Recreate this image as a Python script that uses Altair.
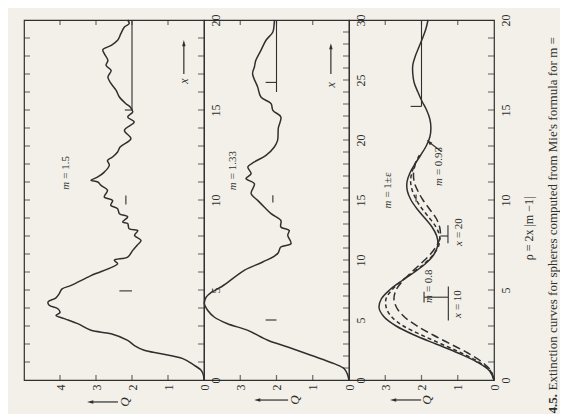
import altair as alt
import pandas as pd

FONT = "Liberation Serif"
INK = "#2f2f2f"
BG = "#f2f0e8"
H = 360

# ---------------- curves: (size parameter, Q) ----------------
m15 = [(0, 0), (0.3, 0.02), (0.54, 0.08), (0.85, 0.3), (1.19, 0.59), (1.46, 1.19), (1.65, 1.66),
       (1.9, 1.92), (2.2, 2.12), (2.57, 2.58), (2.76, 3.14), (3.13, 3.51), (3.41, 3.88), (3.59, 4.11),
       (3.75, 4.0), (3.96, 4.06), (4.15, 4.3), (4.35, 4.33), (4.55, 4.12), (4.8, 4.02), (5.05, 3.95),
       (5.26, 3.69), (5.8, 3.14), (6.46, 2.4), (6.65, 2.49), (6.83, 2.12), (7.2, 1.98), (7.5, 1.85),
       (7.76, 1.75), (8.04, 1.93), (8.3, 1.84), (8.4, 2.08), (8.69, 2.12), (8.78, 2.26), (9.06, 2.12),
       (9.24, 2.35), (9.52, 2.4), (9.7, 2.59), (9.98, 2.54), (10.17, 2.77), (10.54, 2.68), (10.81, 2.86),
       (11.0, 2.95), (11.09, 3.14), (11.28, 2.95), (11.55, 2.77), (11.93, 2.63), (12.2, 2.68),
       (12.39, 2.54), (12.67, 2.4), (12.94, 2.33), (13.41, 2.03), (13.87, 2.21), (14.33, 1.94),
       (14.61, 2.12), (14.9, 1.98), (15.17, 2.05), (15.35, 2.17), (15.72, 2.35), (16.09, 2.44),
       (16.46, 2.58), (16.83, 2.67), (17.2, 2.58), (17.48, 2.72), (17.76, 2.67), (18.13, 2.77),
       (18.35, 2.81), (18.59, 2.58), (18.87, 2.4), (19.24, 2.31), (19.61, 2.21), (19.8, 2.08), (20.0, 2.12)]

m133 = [(0, 0), (0.45, 0.04), (0.94, 0.13), (1.36, 0.41), (2.06, 1.05), (2.75, 1.69), (3.31, 2.24),
        (4.14, 2.79), (4.69, 3.35), (5.25, 3.72), (5.81, 3.9), (6.36, 3.99), (6.9, 3.94), (7.3, 3.8),
        (7.75, 3.53), (8.03, 3.39), (9.14, 2.89), (9.83, 2.38), (10.53, 1.97), (11.08, 1.88),
        (11.36, 1.6), (12.06, 1.69), (12.47, 1.65), (12.75, 1.88), (13.3, 1.88), (13.86, 2.15),
        (14.42, 2.34), (14.97, 2.52), (15.53, 2.7), (16.36, 2.61), (16.78, 2.84), (17.19, 2.7),
        (17.75, 2.79), (18.17, 2.61), (18.72, 2.29), (19.42, 2.06), (19.97, 1.97), (21.0, 1.95),
        (21.92, 1.88), (22.47, 2.1), (23.03, 2.15), (23.58, 2.43), (24.42, 2.52), (25.53, 2.66),
        (26.08, 2.61), (26.64, 2.57), (27.47, 2.43), (28.31, 2.29), (29.0, 2.1), (29.83, 2.06), (30.0, 2.05)]

eps_solid = [(0, 0), (0.5, 0.12), (1, 0.47), (1.5, 0.99), (2, 1.6), (2.5, 2.2), (3, 2.7), (3.5, 3.03),
             (4, 3.17), (4.5, 3.11), (5, 2.88), (5.5, 2.55), (6, 2.19), (6.5, 1.87), (7, 1.65),
             (7.5, 1.55), (8, 1.58), (8.5, 1.71), (9, 1.91), (9.5, 2.12), (10, 2.29), (10.5, 2.39),
             (11, 2.4), (11.5, 2.32), (12, 2.18), (12.5, 2.02), (13, 1.87), (13.5, 1.77), (14, 1.74),
             (14.5, 1.77), (15, 1.86), (15.5, 1.99), (16, 2.1), (16.5, 2.2), (17, 2.24), (17.5, 2.24),
             (18, 2.17), (18.5, 2.07), (19, 1.97), (19.5, 1.88), (20, 1.82)]

eps_093 = [(0, 0), (0.5, 0.1), (1, 0.42), (1.5, 0.9), (2, 1.45), (2.5, 2.0), (3, 2.5), (3.5, 2.82),
           (4, 2.97), (4.5, 2.98), (5, 2.82), (5.5, 2.55), (6, 2.22), (6.5, 1.9), (7, 1.66), (7.5, 1.52),
           (8, 1.5), (8.5, 1.6), (9, 1.78), (9.5, 1.98), (10, 2.14), (10.5, 2.25), (11, 2.3),
           (11.5, 2.27), (12, 2.18), (12.5, 2.06)]

eps_080 = [(0, 0), (0.5, 0.08), (1, 0.33), (1.5, 0.72), (2, 1.2), (2.5, 1.68), (3, 2.12), (3.5, 2.47),
           (4, 2.68), (4.5, 2.76), (5, 2.7), (5.5, 2.52), (6, 2.27), (6.5, 2.0), (7, 1.75), (7.5, 1.57),
           (8, 1.48), (8.5, 1.5), (9, 1.6), (9.5, 1.78), (10, 1.96), (10.5, 2.1), (11, 2.2),
           (11.5, 2.22), (12, 2.17)]

# ---------------- axis labels ----------------
q_labels_5 = [0, 1, 2, 3, 4]
q_labels_4 = [0, 1, 2, 3]
s_labels_20 = [0, 5, 10, 15, 20]
s_labels_30 = [0, 5, 10, 15, 20, 25, 30]

# ---------------- reference segments (q1, q2, s1, s2) ----------------
segs15 = [(2, 2, 15, 20), (2, 2.2, 15, 15), (2.17, 2.17, 9.75, 10.25), (2, 2.35, 4.95, 4.95)]
segs133 = [(2, 2, 24, 30), (2, 2.3, 24.8, 24.8), (2.1, 2.1, 14.8, 15.4), (2, 2.3, 5, 5)]
segs_eps = [(2, 2, 15.2, 20), (2, 2.3, 15.2, 15.2), (2.15, 2.15, 9.9, 10.3),
            (1.27, 1.27, 7.6, 8.6), (1.27, 1.48, 8.0, 8.0),
            (1.26, 1.26, 3.3, 5.2), (1.27, 1.93, 4.6, 4.6), (1.93, 1.93, 4.3, 4.9)]

# ---------------- labels: (q, s, italic part, roman part) ----------------
lab15 = [(3.83, 11.1, "m", "= 1.5")]
lab133 = [(3.2, 16.6, "m", "= 1.33")]
lab_eps = [(2.92, 10.05, "m", "= 1±ε"), (1.52, 11.3, "m", "= 0.93"), (1.79, 4.8, "m", "= 0.8"),
           (0.97, 7.8, "x", "= 20"), (0.99, 3.8, "x", "= 10")]

# arrows: (q1, s1, q2, s2) tail -> head
arrows15 = [(0.56, 17.0, 0.56, 18.67)]
arrows133 = [(0.5, 25.5, 0.5, 27.75)]
arrows_eps = [(1.45, 12.7, 1.78, 13.2)]
xlab15 = [(0.56, 16.6, "x")]
xlab133 = [(0.5, 24.6, "x")]
# "<- Q" under each panel: (q tail, q head, s, q of letter)
qarrow15 = [(2.39, 3.14, -1.22, 2.2)]
qarrow133 = [(1.68, 2.51, -1.67, 1.5)]
qarrow_eps = [(2.01, 2.76, -1.11, 1.85)]

ARROW = "M0,-1L-0.45,0.6L0.45,0.6Z"


def q_axis(vals):
    return alt.Axis(orient="bottom", values=vals, format="d", ticks=False, domain=False, grid=False,
                    labelAngle=270, labelAlign="right", labelBaseline="middle", labelPadding=4,
                    labelFont=FONT, labelFontSize=12, labelColor=INK, labelFlush=False,
                    labelOverlap=False, labelBound=False, title=None)


def s_axis(vals, title=None):
    kw = dict(orient="right", values=vals, format="d", ticks=False, domain=False, grid=False,
              labelAngle=270, labelAlign="center", labelBaseline="top", labelPadding=6,
              labelFont=FONT, labelFontSize=12, labelColor=INK, labelFlush=False,
              labelOverlap=False, labelBound=False)
    if title:
        kw.update(title=title, titleAngle=270, titleFont=FONT, titleFontSize=12,
                  titleFontWeight="normal", titleColor=INK, titleX=34, titleY=208,
                  titleAlign="center", titleBaseline="middle")
    else:
        kw.update(title=None)
    return alt.Axis(**kw)


def caption_axis(text, ty, bold):
    return alt.Axis(orient="right", labels=False, ticks=False, domain=False, grid=False,
                    title=text, titleAngle=270, titleX=52, titleY=ty, titleAlign="left",
                    titleBaseline="top", titleFont=FONT, titleFontSize=13,
                    titleFontWeight="bold" if bold else "normal", titleColor=INK)


def panel(qmax, smax, width, curves, qlabs, slabs, segs, labs, arrows, xlabs, qarrow,
          left_ticks, stitle=None, captions=()):
    xs = alt.Scale(domain=[0, qmax], reverse=True, nice=False, zero=False)
    ys = alt.Scale(domain=[0, smax], nice=False, zero=False)
    layers = []
    for i, (data, dash) in enumerate(curves):
        df = pd.DataFrame(data, columns=["s", "q"])
        mk = dict(color=INK, strokeWidth=1.5, interpolate="catmull-rom")
        if dash:
            mk["strokeDash"] = dash
        layers.append(alt.Chart(df).mark_line(**mk).encode(
            x=alt.X("q:Q", scale=xs, axis=q_axis(qlabs) if i == 0 else None),
            y=alt.Y("s:Q", scale=ys, axis=s_axis(slabs, stitle) if i == 0 else None),
            order="s:Q"))
    qt = pd.DataFrame({"q": list(range(1, qmax)), "b": 0, "t": smax})
    layers.append(alt.Chart(qt).mark_tick(orient="vertical", size=5, thickness=1.2, color=INK,
                                          yOffset=-2.5).encode(
        x=alt.X("q:Q", scale=xs, axis=None), y=alt.Y("b:Q", scale=ys, axis=None)))
    layers.append(alt.Chart(qt).mark_tick(orient="vertical", size=5, thickness=1.2, color=INK,
                                          yOffset=2.5).encode(
        x=alt.X("q:Q", scale=xs, axis=None), y=alt.Y("t:Q", scale=ys, axis=None)))
    st = pd.DataFrame({"s": list(range(1, smax)), "l": qmax, "r": 0})
    layers.append(alt.Chart(st).mark_tick(orient="horizontal", size=6, thickness=1.1, color=INK,
                                          xOffset=-3).encode(
        x=alt.X("r:Q", scale=xs, axis=None), y=alt.Y("s:Q", scale=ys, axis=None)))
    if left_ticks:
        layers.append(alt.Chart(st).mark_tick(orient="horizontal", size=6, thickness=1.1, color=INK,
                                              xOffset=3).encode(
            x=alt.X("l:Q", scale=xs, axis=None), y=alt.Y("s:Q", scale=ys, axis=None)))
    sg = pd.DataFrame(segs, columns=["q1", "q2", "s1", "s2"])
    layers.append(alt.Chart(sg).mark_rule(color=INK, strokeWidth=1.1).encode(
        x=alt.X("q1:Q", scale=xs, axis=None), x2="q2:Q",
        y=alt.Y("s1:Q", scale=ys, axis=None), y2="s2:Q"))
    lb = pd.DataFrame(labs, columns=["q", "s", "it", "ro"])
    layers.append(alt.Chart(lb).mark_text(angle=270, font=FONT, fontSize=11, fontStyle="italic",
                                          align="right", baseline="middle", dx=-1.5, color=INK).encode(
        x=alt.X("q:Q", scale=xs, axis=None), y=alt.Y("s:Q", scale=ys, axis=None), text="it:N"))
    layers.append(alt.Chart(lb).mark_text(angle=270, font=FONT, fontSize=11,
                                          align="left", baseline="middle", dx=1.5, color=INK).encode(
        x=alt.X("q:Q", scale=xs, axis=None), y=alt.Y("s:Q", scale=ys, axis=None), text="ro:N"))
    ar = pd.DataFrame(arrows, columns=["q1", "s1", "q2", "s2"])
    ar["ang"] = [0 if a[0] == a[2] else 315 for a in arrows]
    layers.append(alt.Chart(ar).mark_rule(color=INK, strokeWidth=1.2).encode(
        x=alt.X("q1:Q", scale=xs, axis=None), x2="q2:Q",
        y=alt.Y("s1:Q", scale=ys, axis=None), y2="s2:Q"))
    layers.append(alt.Chart(ar).mark_point(shape=ARROW, filled=True, size=60,
                                           color=INK, opacity=1).encode(
        x=alt.X("q2:Q", scale=xs, axis=None), y=alt.Y("s2:Q", scale=ys, axis=None),
        angle=alt.Angle("ang:Q", scale=None)))
    if xlabs:
        xl = pd.DataFrame(xlabs, columns=["q", "s", "t"])
        layers.append(alt.Chart(xl).mark_text(angle=270, font=FONT, fontSize=12, fontStyle="italic",
                                              baseline="middle", color=INK).encode(
            x=alt.X("q:Q", scale=xs, axis=None), y=alt.Y("s:Q", scale=ys, axis=None), text="t:N"))
    qa = pd.DataFrame(qarrow, columns=["q1", "q2", "s", "ql"])
    qa["t"] = "Q"
    layers.append(alt.Chart(qa).mark_rule(color=INK, strokeWidth=1.2).encode(
        x=alt.X("q1:Q", scale=xs, axis=None), x2="q2:Q", y=alt.Y("s:Q", scale=ys, axis=None)))
    layers.append(alt.Chart(qa).mark_point(shape=ARROW, filled=True, size=60,
                                           color=INK, opacity=1, angle=270).encode(
        x=alt.X("q2:Q", scale=xs, axis=None), y=alt.Y("s:Q", scale=ys, axis=None)))
    layers.append(alt.Chart(qa).mark_text(angle=270, font=FONT, fontSize=13, fontStyle="italic",
                                          baseline="middle", color=INK).encode(
        x=alt.X("ql:Q", scale=xs, axis=None), y=alt.Y("s:Q", scale=ys, axis=None), text="t:N"))
    for text, ty, bold in captions:
        layers.append(alt.Chart(pd.DataFrame({"s": [0], "q": [0]})).mark_point(opacity=0).encode(
            x=alt.X("q:Q", scale=xs, axis=None),
            y=alt.Y("s:Q", scale=ys, axis=caption_axis(text, ty, bold))))
    return alt.layer(*layers).properties(width=width, height=H).resolve_axis(
        x="independent", y="independent")


p1 = panel(5, 20, 180, [(m15, None)], q_labels_5, s_labels_20, segs15, lab15, arrows15, xlab15,
           qarrow15, True)
p2 = panel(4, 30, 145, [(m133, None)], q_labels_4, s_labels_30, segs133, lab133, arrows133, xlab133,
           qarrow133, False)
p3 = panel(4, 20, 145, [(eps_solid, None), (eps_093, [4, 3]), (eps_080, [8, 4])], q_labels_4,
           s_labels_20, segs_eps, lab_eps, arrows_eps, [], qarrow_eps, False,
           stitle="ρ = 2x |m −1|",
           captions=[("4.5.", 393, True),
                     ("Extinction curves for spheres computed from Mie's formula for m =", 370, False)])

chart = alt.hconcat(p1, p2, p3, spacing=0, bounds="flush").properties(
    background=BG, padding={"left": 15, "top": 5, "right": 0, "bottom": 0}
).configure_view(stroke=INK, strokeWidth=1.2)

chart.save("out.html", embed_options={"renderer": "svg", "actions": False})
